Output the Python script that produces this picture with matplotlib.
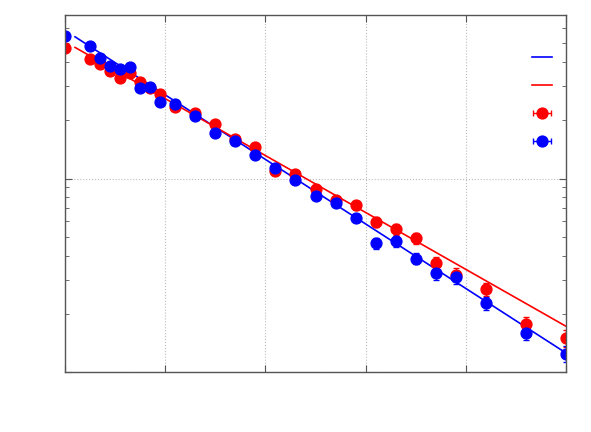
import numpy as np
import matplotlib
matplotlib.use('Agg')
import matplotlib.pyplot as plt
from matplotlib.lines import Line2D
from matplotlib.collections import LineCollection
from matplotlib.container import ErrorbarContainer
from matplotlib.legend_handler import HandlerErrorbar
from matplotlib.ticker import LogLocator, NullFormatter, MultipleLocator

# x positions of the measurements
x = [0.0, 0.245, 0.35, 0.45, 0.55, 0.65, 0.75, 0.85, 0.95, 1.1, 1.3, 1.5, 1.7,
     1.9, 2.1, 2.3, 2.5, 2.7, 2.9, 3.1, 3.3, 3.5, 3.7, 3.9, 4.2, 4.6, 5.0]

blue_y = [5.44, 4.83, 4.22, 3.82, 3.66, 3.75, 2.92, 2.98, 2.49, 2.44, 2.11, 1.71, 1.56,
          1.32, 1.13, 0.98, 0.815, 0.751, 0.626, 0.465, 0.476, 0.386, 0.325, 0.309,
          0.227, 0.160, 0.1245]
red_y = [4.70, 4.17, 3.90, 3.59, 3.29, 3.49, 3.14, 2.93, 2.73, 2.35, 2.17, 1.92, 1.60,
         1.46, 1.10, 1.05, 0.880, 0.772, 0.727, 0.597, 0.547, 0.490, 0.368, 0.319,
         0.267, 0.1765, 0.149]

# relative errors
blue_rel = [0.01, 0.015, 0.015, 0.015, 0.015, 0.015, 0.02, 0.02, 0.02, 0.02, 0.02, 0.02, 0.025,
            0.03, 0.03, 0.03, 0.035, 0.04, 0.045, 0.065, 0.065, 0.065, 0.075, 0.075,
            0.075, 0.09, 0.1]
red_rel = [0.01, 0.015, 0.035, 0.015, 0.015, 0.015, 0.02, 0.02, 0.02, 0.02, 0.02, 0.02, 0.025,
           0.03, 0.035, 0.035, 0.035, 0.045, 0.05, 0.055, 0.065, 0.065, 0.065, 0.075,
           0.075, 0.085, 0.1]

# exponential fit lines (end points)
fit_x = [0.1, 5.0]
blue_fit = [5.40, 0.1254]
red_fit = [4.76, 0.1723]

fig = plt.figure(figsize=(5.91, 4.32), dpi=100)
ax = fig.add_axes([65/591, 1-372/432, 501/591, 357/432])

l1, = ax.plot(fit_x, blue_fit, color='blue', lw=1.2)
l2, = ax.plot(fit_x, red_fit, color='red', lw=1.2)

ax.errorbar(x, red_y, yerr=np.array(red_y)*np.array(red_rel), fmt='o', color='red',
            ms=7.8, capsize=2.5, elinewidth=1, capthick=1)
ax.errorbar(x, blue_y, yerr=np.array(blue_y)*np.array(blue_rel), fmt='o', color='blue',
            ms=7.8, capsize=2.5, elinewidth=1, capthick=1)

ax.set_yscale('log')
ax.set_xlim(0, 5)
ax.set_ylim(0.1, 7)
ax.xaxis.set_major_locator(MultipleLocator(1))
ax.yaxis.set_major_locator(LogLocator(base=10))
ax.yaxis.set_minor_locator(LogLocator(base=10, subs=np.arange(2, 10)))
ax.xaxis.set_major_formatter(NullFormatter())
ax.yaxis.set_major_formatter(NullFormatter())
ax.yaxis.set_minor_formatter(NullFormatter())
ax.tick_params(which='both', direction='in', top=True, right=True, color='#555555')
ax.tick_params(which='major', length=5)
ax.tick_params(which='minor', length=3)
ax.grid(True, which='major', linestyle=':', color='#bbbbbb', lw=0.8)
for s in ax.spines.values():
    s.set_color('#555555')
    s.set_linewidth(1)

# legend samples like gnuplot (horizontal error bars)
def eb_handle(c):
    pt = Line2D([], [], color=c, marker='o', ms=7.8, ls='none')
    cap = Line2D([], [], color=c, marker='|', ms=5, mew=1)
    bar = LineCollection([], colors=c, linewidths=1)
    bar.set_color(c)
    return ErrorbarContainer((pt, (cap,), (bar,)), has_xerr=True, has_yerr=False)

h3 = eb_handle('red')
h4 = eb_handle('blue')
leg = ax.legend([l1, l2, h3, h4], ['', '', '', ''],
                loc='upper right', bbox_to_anchor=(0.985, 0.918), frameon=False,
                handlelength=1.4, labelspacing=1.0, handletextpad=0, borderpad=0,
                handler_map={h3: HandlerErrorbar(xerr_size=0.65),
                             h4: HandlerErrorbar(xerr_size=0.65)})

fig.savefig('out.png', dpi=100)
